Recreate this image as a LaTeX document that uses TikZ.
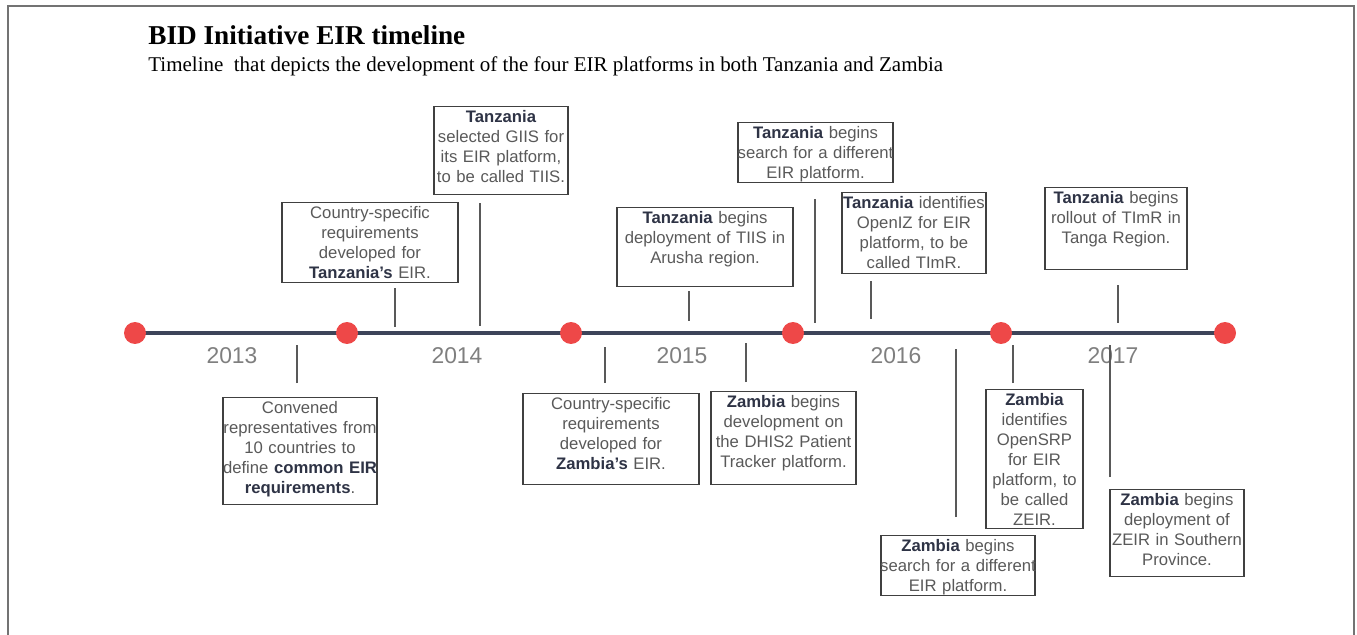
\documentclass[tikz,border=0pt]{standalone}
\usepackage{fontspec}
\setmainfont{Liberation Serif}
\setsansfont{Liberation Sans}
\usepackage{xcolor}
\usepackage{tikz}
\definecolor{linenavy}{HTML}{3D4459}
\definecolor{dotred}{HTML}{EE4848}
\definecolor{boxtext}{HTML}{595959}
\definecolor{boldnavy}{HTML}{2E3345}
\definecolor{yeargray}{HTML}{7F7F7F}
\newcommand{\cty}[1]{\textbf{\color{boldnavy}#1}}
% text width is 0.28cm wider than the drawn box, so tight lines do not wrap
\tikzstyle{event} = [rectangle, draw=black!75, line width=0.8pt, anchor=north, align=center, inner xsep=-0.14cm, inner ysep=2pt, text height=7pt, font=\sffamily\fontsize{9.5}{11.4}\selectfont, text=boxtext]
\tikzstyle{tick} = [draw=black!65, line width=0.8pt]
\tikzstyle{dot} = [circle, fill=dotred, minimum size=0.44cm, inner sep=0pt]
\tikzstyle{year} = [font=\sffamily\fontsize{13}{15}\selectfont, text=yeargray]

\begin{document}
\begin{tikzpicture}[x=0.02cm, y=-0.02cm]
    \useasboundingbox (0,0) rectangle (1357,635);
    % Frame
    \draw [draw=black!55, line width=1pt] (8,635) -- (8,6) -- (1354,6) -- (1354,635);

    % Title
    \node (title) [anchor=base west, inner sep=0pt, font=\bfseries\fontsize{15.5}{18}\selectfont] at (148,45) {BID Initiative EIR timeline};
    \node (subtitle) [anchor=base west, inner sep=0pt, font=\fontsize{11.95}{14}\selectfont] at (148,72) {Timeline~ that depicts the development of the four EIR platforms in both Tanzania and Zambia};

    % Timeline
    \coordinate (start) at (135,333);
    \coordinate (end) at (1225,333);
    \draw [linenavy, line width=2.8pt] (start) -- (end);
    \node (p0) [dot] at (start) {};
    \node (p1) [dot] at (347,333) {};
    \node (p2) [dot] at (571,333) {};
    \node (p3) [dot] at (793,333) {};
    \node (p4) [dot] at (1001,333) {};
    \node (p5) [dot] at (end) {};

    % Years
    \node (y2013) [year] at (232,356) {2013};
    \node (y2014) [year] at (457,356) {2014};
    \node (y2015) [year] at (682,356) {2015};
    \node (y2016) [year] at (896,356) {2016};
    \node (y2017) [year] at (1113,356) {2017};

    % Events above the line
    \node (tzreq) [event, text width=3.80cm, text depth=34.5pt] at (370,202) {Country-specific\\ requirements\\ developed for\\ \cty{Tanzania’s} EIR.};
    \node (tzgiis) [event, text width=2.96cm, text depth=39.1pt] at (501,106) {\cty{Tanzania}\\ selected GIIS for\\ its EIR platform,\\ to be called TIIS.};
    \node (tzarusha) [event, text width=3.80cm, text depth=34pt] at (705,207) {\cty{Tanzania} begins\\ deployment of TIIS in\\ Arusha region.};
    \node (tzsearch) [event, text width=3.38cm, text depth=23.1pt] at (815.5,122) {\cty{Tanzania} begins\\ search for a different\\ EIR platform.};
    \node (tzopeniz) [event, text width=3.16cm, text depth=35.1pt] at (914,192) {\cty{Tanzania} identifies\\ OpenIZ for EIR\\ platform, to be\\ called TImR.};
    \node (tztanga) [event, text width=3.12cm, text depth=35.7pt] at (1116,187) {\cty{Tanzania} begins\\ rollout of TImR in\\ Tanga Region.};

    % Events below the line
    \node (convened) [event, text width=3.36cm, text depth=49.9pt] at (300,397) {Convened\\ representatives from\\ 10 countries to\\ define \cty{common EIR}\\ \cty{requirements}.};
    \node (zmreq) [event, text width=3.80cm, text depth=40.8pt] at (611,393) {Country-specific\\ requirements\\ developed for\\ \cty{Zambia’s} EIR.};
    \node (zmdhis) [event, text width=3.18cm, text depth=41.9pt] at (783.5,391) {\cty{Zambia} begins\\ development on\\ the DHIS2 Patient\\ Tracker platform.};
    \node (zmsearch) [event, text width=3.36cm, text depth=23.1pt] at (958,535) {\cty{Zambia} begins\\ search for a different\\ EIR platform.};
    \node (zmopensrp) [event, text width=2.22cm, text depth=68.1pt] at (1034.5,389) {\cty{Zambia}\\ identifies\\ OpenSRP\\ for EIR\\ platform, to\\ be called\\ ZEIR.};
    \node (zmsouth) [event, text width=2.96cm, text depth=38.5pt] at (1177,489) {\cty{Zambia} begins\\ deployment of\\ ZEIR in Southern\\ Province.};

    % Ticks
    \coordinate (t1) at (395,327);
    \coordinate (t2) at (480,326);
    \coordinate (t3) at (689,321);
    \coordinate (t4) at (815,323);
    \coordinate (t5) at (871,319);
    \coordinate (t6) at (1118,323);
    \coordinate (t7) at (297,345);
    \coordinate (t8) at (605,347);
    \coordinate (t9) at (746,343);
    \coordinate (t10) at (956,349);
    \coordinate (t11) at (1013,345);
    \coordinate (t12) at (1110,345);
    \draw [tick] (tzreq.south -| t1) ++(0,5) -- (t1);
    \draw [tick] (tzgiis.south -| t2) ++(0,8) -- (t2);
    \draw [tick] (tzarusha.south -| t3) ++(0,4) -- (t3);
    \draw [tick] (tzsearch.south -| t4) ++(0,16) -- (t4);
    \draw [tick] (tzopeniz.south -| t5) ++(0,7) -- (t5);
    \draw [tick] (tztanga.south -| t6) ++(0,15) -- (t6);
    \draw [tick] (convened.north -| t7) ++(0,-14) -- (t7);
    \draw [tick] (zmreq.north -| t8) ++(0,-10) -- (t8);
    \draw [tick] (zmdhis.north -| t9) ++(0,-9) -- (t9);
    \draw [tick] (zmsearch.north -| t10) ++(0,-18) -- (t10);
    \draw [tick] (zmopensrp.north -| t11) ++(0,-6) -- (t11);
    \draw [tick] (zmsouth.north -| t12) ++(0,-12) -- (t12);
\end{tikzpicture}
\end{document}
